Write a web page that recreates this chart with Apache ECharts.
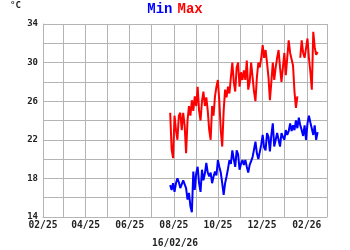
<!DOCTYPE html>
<html>
<head>
<meta charset="utf-8">
<script src="https://cdn.jsdelivr.net/npm/echarts@6/dist/echarts.min.js"></script>
<style>
html,body{margin:0;padding:0;background:#fff;}
#chart{width:350px;height:250px;}
</style>
</head>
<body>
<div id="chart"></div>
<script>
// ---- data ----
var startDate = [2025, 6, 27];   // 27 Jul 2025 (month 0-based)
var stepDays = 2;
var maxValues = [24.8,21,20.1,24.5,23,22,24.5,24.8,23,24.8,23.5,20.6,24,25.5,24.5,26.1,25,26.5,25.5,27.5,
  25,24,26,27,25.5,26.4,25,23,22,25.5,24.5,26.5,27.5,28.2,26,23,21.3,25,27.2,26.4,
  27.5,26.8,28.5,30,28,27,29.5,30,27.5,29,28.2,29.2,28.2,30.2,27.2,28,30,28.5,27,26,
  28.5,30,29.5,30.5,31.8,30.5,31.3,30,28.5,26.1,28,30,28.2,29.5,30.5,31.3,29.5,28,29.5,31,
  28.7,30.5,32.3,31,30.8,29.7,27,25.3,26.5,null,30.5,32.3,31,30.5,31.5,32.5,30.5,29,27.2,33.2,
  31.6,30.8,31.1];
var minValues = [17.3,16.8,17.5,16.6,17.5,18,17.6,17,17.2,17.8,17.7,17,15.8,16.5,15.1,14.5,18.7,16.8,18.5,19.2,
  17.5,16.6,18.9,17.8,18.5,19.6,18.6,18.2,18.6,17.5,18.2,18.7,18.3,19.9,19.2,18.6,17.5,16.3,17.5,18.2,
  19,19.9,19.5,20.9,20,19.2,20.9,20.5,18.9,19.5,19.9,19.4,19.9,19.2,18.6,19.4,19.8,20.2,21,21.8,
  20.6,20,20.2,21.5,22.5,21.2,20.9,22.7,22.3,20.8,22.5,23.7,21.3,22,22.7,22.5,21.3,22.7,22.3,22,
  23,22.5,22.9,23.7,22.9,23.5,23,24,23.2,24.3,23.5,23,22.4,23.5,22,23.7,24.5,23.8,23.7,22.5,
  23.5,22,22.8];
var monthTicks = ['2025-02','2025-03','2025-04','2025-05','2025-06','2025-07','2025-08','2025-09',
  '2025-10','2025-11','2025-12','2026-01','2026-02','2026-03'];
var monthLabels = ['2025-02','2025-04','2025-06','2025-08','2025-10','2025-12','2026-02'];
var yMin = 14, yMax = 34, yStep = 2, yLabelStep = 4;
var titleMin = 'Min', titleMax = 'Max';
var unitText = '°C';
var dateText = '16/02/26';

// ---- build ----
function monthTs(s){ var p = s.split('-'); return new Date(+p[0], +p[1]-1, 1).getTime(); }
function pad(n){ return (n < 10 ? '0' : '') + n; }
var dates = [];
for (var i = 0; i < maxValues.length; i++) {
  dates.push(new Date(startDate[0], startDate[1], startDate[2] + i*stepDays).getTime());
}
var maxData = maxValues.map(function(v,i){ return [dates[i], v]; });
var minData = minValues.map(function(v,i){ return [dates[i], v]; });
var tickVals = monthTicks.map(monthTs);
var labelVals = monthLabels.map(monthTs);

var gridColor = '#b4b4b4';
var textFont = 'DejaVu Sans Mono';
var chart = echarts.init(document.getElementById('chart'), null, {renderer:'canvas'});
chart.setOption({
  animation: false,
  backgroundColor: '#fff',
  title: [
    {text: '{b|' + titleMin + '} {r|' + titleMax + '}', left: 'center', top: 0, padding: 0,
     textStyle: {rich: {
       b: {color:'#0000ff', fontFamily:'Liberation Mono', fontWeight:'bold', fontSize:14},
       r: {color:'#ff0000', fontFamily:'Liberation Mono', fontWeight:'bold', fontSize:14}
     }}},
    {text: unitText, left: 10, top: 1, padding: 0,
     textStyle: {color:'#222', fontFamily: textFont, fontWeight:'bold', fontSize:9}},
    {text: dateText, left: 'center', top: 238, padding: 0,
     textStyle: {color:'#222', fontFamily: textFont, fontWeight:'bold', fontSize:9.6}}
  ],
  grid: {left: 43, right: 23, top: 24, bottom: 33, containLabel: false},
  xAxis: {
    type: 'value',
    min: tickVals[0], max: tickVals[tickVals.length-1],
    axisLine: {show: true, lineStyle: {color: gridColor, width: 1}},
    axisTick: {show: false, customValues: tickVals},
    splitLine: {show: true, lineStyle: {color: gridColor, width: 1}},
    axisLabel: {
      customValues: labelVals,
      color: '#222', fontFamily: textFont, fontWeight: 'bold', fontSize: 9.6, margin: 3,
      hideOverlap: false,
      formatter: function(v){ var d = new Date(v); return pad(d.getMonth()+1) + '/' + pad(d.getFullYear()%100); }
    }
  },
  yAxis: {
    type: 'value', min: yMin, max: yMax, interval: yStep,
    axisLine: {show: true, lineStyle: {color: gridColor, width: 1}},
    axisTick: {show: false},
    splitLine: {show: true, lineStyle: {color: gridColor, width: 1}},
    axisLabel: {
      color: '#222', fontFamily: textFont, fontWeight: 'bold', fontSize: 9, margin: 5,
      formatter: function(v){ return ((v - yMin) % yLabelStep === 0) ? String(v) : ''; }
    }
  },
  series: [
    {name: 'Max', type: 'line', data: maxData, showSymbol: false, connectNulls: false,
     lineStyle: {color: '#ff0000', width: 2}, itemStyle: {color:'#ff0000'}},
    {name: 'Min', type: 'line', data: minData, showSymbol: false,
     lineStyle: {color: '#0000ff', width: 2}, itemStyle: {color:'#0000ff'}}
  ]
});
</script>
</body>
</html>
